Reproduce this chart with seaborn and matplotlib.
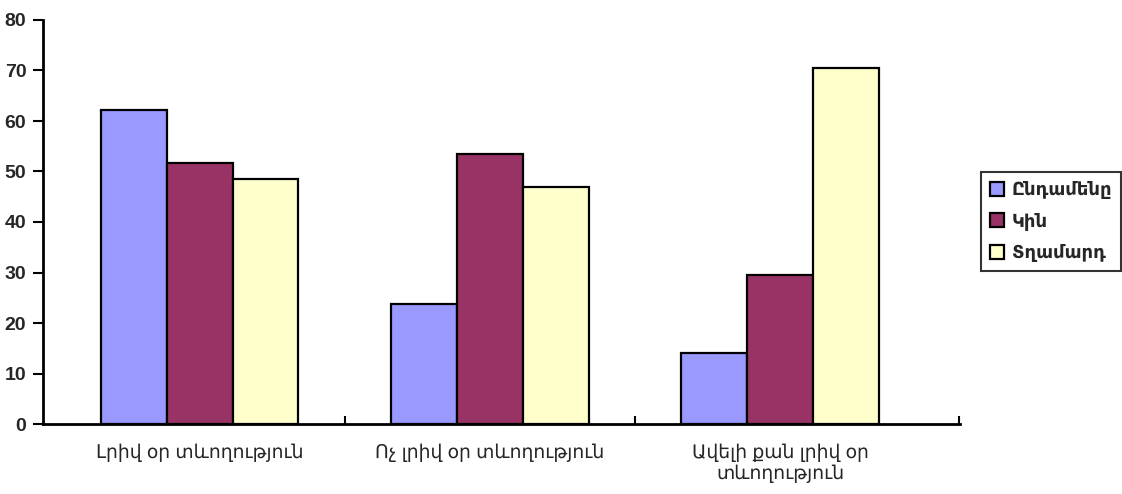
import pandas as pd
import matplotlib.pyplot as plt
import seaborn as sns

# chart data
categories = ['Լրիվ օր տևողություն', 'Ոչ լրիվ օր տևողություն', 'Ավելի քան լրիվ օր\nտևողություն']
series = ['Ընդամենը', 'Կին', 'Տղամարդ']
total = [62.2, 23.8, 14.1]
women = [51.7, 53.5, 29.5]
men = [48.5, 46.9, 70.5]
colors = ['#9999FF', '#993366', '#FFFFCC']
yticks = [0, 10, 20, 30, 40, 50, 60, 70, 80]

rows = []
for name, vals in zip(series, [total, women, men]):
    for cat, v in zip(categories, vals):
        rows.append({'cat': cat, 'series': name, 'value': v})
df = pd.DataFrame(rows)

sns.set_style('white')
plt.rcParams['font.family'] = ['Liberation Sans', 'DejaVu Sans']

fig = plt.figure(figsize=(11.22, 4.94), dpi=100)
ax = fig.add_axes([43 / 1122, 1 - 424 / 494, (960 - 43) / 1122, (424 - 20) / 494])

sns.barplot(data=df, x='cat', y='value', hue='series', palette=colors,
            order=categories, hue_order=series, width=0.68, gap=0,
            edgecolor='black', linewidth=1.6, saturation=1, ax=ax)

ax.set_xlim(-0.54, 2.62)
ax.set_ylim(0, 80)
ax.set_yticks(yticks)
ax.set_yticklabels([str(t) for t in yticks], fontsize=14, fontweight='bold')
ax.set_xlabel('')
ax.set_ylabel('')
ax.tick_params(axis='y', left=True, direction='out', length=7, width=1.5, color='black', pad=5)
ax.tick_params(axis='x', which='major', bottom=False, length=0, pad=14, labelsize=13.5)
# category separators point up into the plot, one also closes the axis
ax.set_xticks([0.5, 1.5, 2.615], minor=True)
ax.tick_params(axis='x', which='minor', bottom=True, direction='in', length=6, width=1.5, color='black')

for s in ['top', 'right']:
    ax.spines[s].set_visible(False)
for s in ['left', 'bottom']:
    ax.spines[s].set_color('black')
    ax.spines[s].set_linewidth(2)

ax.legend(loc='upper left', bbox_to_anchor=(981 / 1122, 1 - 172 / 494),
          bbox_transform=fig.transFigure, frameon=True, fancybox=False,
          edgecolor='black', prop={'weight': 'bold', 'size': 13},
          handlelength=0.8, handleheight=0.8, handletextpad=0.4,
          borderpad=0.5, labelspacing=0.75, borderaxespad=0)
ax.get_legend().get_frame().set_linewidth(1.5)

fig.savefig('out.png', dpi=100)
